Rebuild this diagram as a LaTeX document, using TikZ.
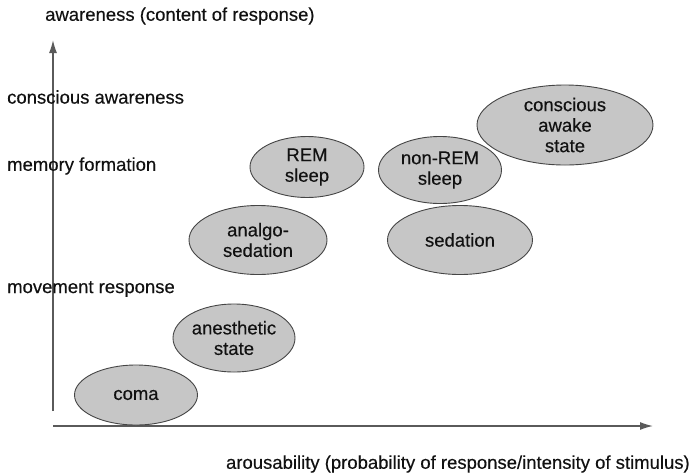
\documentclass[tikz,border=0pt]{standalone}
\usepackage{fontspec}
\setmainfont{Liberation Sans}
\newfontfamily\dfont[FakeBold=0.35]{Liberation Sans}
\usetikzlibrary{arrows.meta,shapes.geometric}
\definecolor{ellfill}{HTML}{C6C6C6}
\definecolor{ellline}{HTML}{454545}
\definecolor{axisline}{HTML}{5A5A5A}
\definecolor{txt}{HTML}{111111}
\begin{document}
\begin{tikzpicture}[x=1pt,y=-1pt,
  state/.style={ellipse, draw=ellline, line width=0.9pt, fill=ellfill, inner sep=0pt},
  stxt/.style={align=center, inner sep=0pt, font=\dfont\fontsize{18.5}{20.5}\selectfont, text=txt},
  lbl/.style={font=\dfont\fontsize{18.5}{21}\selectfont, text=txt, inner sep=0pt},
  axis/.style={draw=axisline, line width=1.3pt, -{Latex[length=13pt,width=8pt]}}]
\useasboundingbox (0,0) rectangle (694,475);
% axes
\coordinate (yb) at (53,411);
\coordinate (yt) at (53,40);
\coordinate (xl) at (53,426);
\coordinate (xr) at (653,426);
\draw[axis] (yb) -- (yt);
\draw[axis] (xl) -- (xr);
% labels
\node[lbl, anchor=west] (ttl) at (45,16) {awareness (content of response)};
\node[lbl, anchor=west] (ca) at (7,97) {conscious awareness};
\node[lbl, anchor=west] (mf) at (7,166) {memory formation};
\node[lbl, anchor=west] (mr) at (7,289) {movement response};
\node[lbl, anchor=east] (ar) at (690,464) {arousability (probability of response/intensity of stimulus)};
% states
\node[state, minimum width=123pt, minimum height=60pt] (coma) at (136,395) {};
\node[stxt] at (coma.center) {coma};
\node[state, minimum width=122pt, minimum height=68pt] (anes) at (234,338) {};
\node[stxt] at (anes.center) {anesthetic\\state};
\node[state, minimum width=138pt, minimum height=69pt] (analg) at (258,240) {};
\node[stxt] at (analg.center) {analgo-\\sedation};
\node[state, minimum width=114pt, minimum height=61pt] (rem) at (307,167) {};
\node[stxt] at (rem.center) {REM\\sleep};
\node[state, minimum width=123pt, minimum height=67pt] (nrem) at (440,170) {};
\node[stxt] at (nrem.center) {non-REM\\sleep};
\node[state, minimum width=145pt, minimum height=69pt] (sed) at (460,240) {};
\node[stxt] at (sed.center) {sedation};
\node[state, minimum width=176pt, minimum height=80pt] (awake) at (565,125) {};
\node[stxt] at (awake.center) {conscious\\awake\\state};
\end{tikzpicture}
\end{document}
